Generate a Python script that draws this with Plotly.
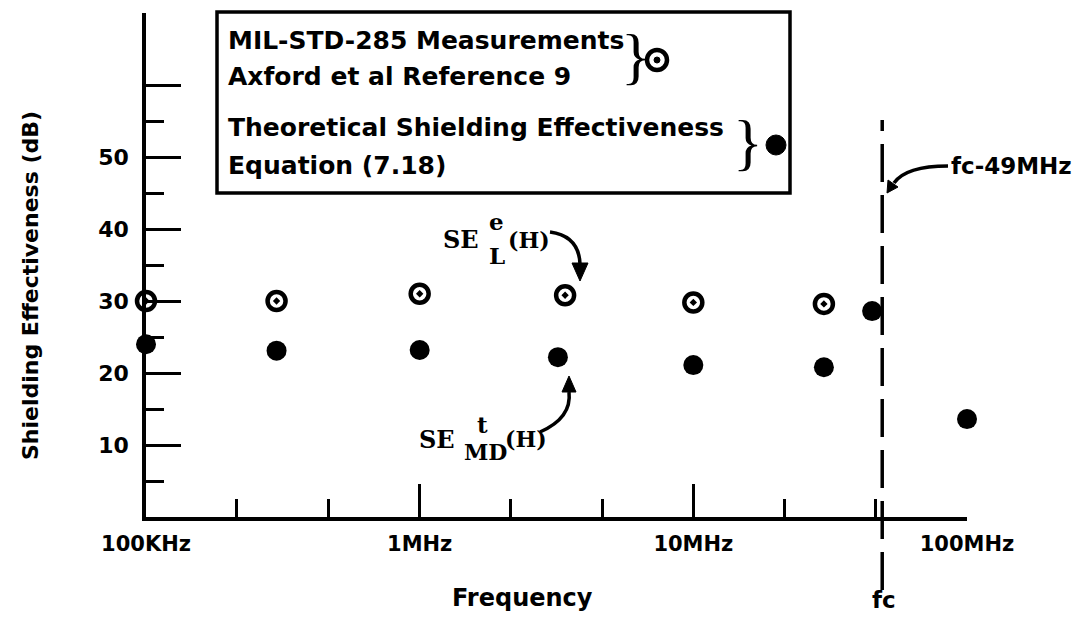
import plotly.graph_objects as go

# ---------------- data ----------------
freq_measured_hz = [1e5, 3e5, 1e6, 3.4e6, 1e7, 3e7]
se_measured_db = [30, 30, 31, 30.8, 29.8, 29.6]

freq_theory_hz = [1e5, 3e5, 1e6, 3.2e6, 1e7, 3e7, 4.5e7, 1e8]
se_theory_db = [24, 23.1, 23.2, 22.2, 21.1, 20.8, 28.6, 13.6]

fc_hz = 49e6

x_major_vals = [1e5, 1e6, 1e7, 1e8]
x_major_text = ["100KHz", "1MHz", "10MHz", "100MHz"]
x_minor_vals = [2.15e5, 4.64e5, 2.15e6, 4.64e6, 2.15e7, 4.64e7]
y_major_vals = [10, 20, 30, 40, 50, 60]
y_major_text = ["10", "20", "30", "40", "50", ""]
y_minor_vals = [5, 15, 25, 35, 45, 55]

# ---------------- layout geometry ----------------
OFF = 8                      # default page body margin
W, H = 1085 - OFF, 618 - OFF
L, T = 146 - OFF, 13 - OFF
R = W - (967 - OFF)
B = H - (517 - OFF)
PW, PH = W - L - R, H - T - B


def px(x):   # x given in page pixels
    return (x - OFF - L) / PW


def py(y):   # y given in page pixels
    return (H - B - (y - OFF)) / PH


FONT = "DejaVu Sans"
TYPE = "DejaVu Serif"
BRACE = "Liberation Serif"

fig = go.Figure()

fig.add_trace(go.Scatter(
    x=freq_measured_hz, y=se_measured_db, mode="markers",
    marker=dict(symbol="circle-open-dot", size=18, color="black",
                line=dict(width=4.5, color="black")),
    cliponaxis=False, showlegend=False, hoverinfo="skip"))

fig.add_trace(go.Scatter(
    x=freq_theory_hz, y=se_theory_db, mode="markers",
    marker=dict(symbol="circle", size=20, color="black"),
    cliponaxis=False, showlegend=False, hoverinfo="skip"))

shapes = []
# fc dashed line
shapes.append(dict(type="line", xref="x", yref="paper",
                   x0=fc_hz, x1=fc_hz, y0=py(590), y1=py(120),
                   line=dict(color="black", width=3.5, dash="38px,13px")))
# legend box
shapes.append(dict(type="rect", xref="paper", yref="paper",
                   x0=px(217), x1=px(790), y0=py(193), y1=py(12),
                   line=dict(color="black", width=3.5)))
# legend symbols
shapes.append(dict(type="circle", xref="paper", yref="paper",
                   x0=px(647), x1=px(667), y0=py(70), y1=py(50),
                   line=dict(color="black", width=4.5)))
shapes.append(dict(type="circle", xref="paper", yref="paper",
                   x0=px(654), x1=px(660), y0=py(63), y1=py(57),
                   fillcolor="black", line=dict(color="black", width=1)))
shapes.append(dict(type="circle", xref="paper", yref="paper",
                   x0=px(766), x1=px(786), y0=py(155), y1=py(135),
                   fillcolor="black", line=dict(color="black", width=1)))


def curve(p0, c, p1, tip, b1, b2):
    path = "M {},{} Q {},{} {},{}".format(px(p0[0]), py(p0[1]), px(c[0]), py(c[1]),
                                          px(p1[0]), py(p1[1]))
    shapes.append(dict(type="path", xref="paper", yref="paper", path=path,
                       line=dict(color="black", width=3.5)))
    tri = "M {},{} L {},{} L {},{} Z".format(px(tip[0]), py(tip[1]), px(b1[0]), py(b1[1]),
                                             px(b2[0]), py(b2[1]))
    shapes.append(dict(type="path", xref="paper", yref="paper", path=tri,
                       fillcolor="black", line=dict(color="black", width=1)))


curve((550, 232), (579, 236), (580, 264), (580, 281), (572, 263), (588, 263))
curve((540, 432), (572, 418), (569, 392), (569, 376), (562, 392), (576, 392))
curve((948, 166), (906, 166), (894, 183), (887, 193), (898, 187), (888, 180))

fig.update_layout(shapes=shapes)

ann = []


def text(x, y, s, size, family=FONT, xa="center", ya="middle", bold=True, angle=0):
    ann.append(dict(xref="paper", yref="paper", x=px(x), y=py(y),
                    text=("<b>%s</b>" % s) if bold else s, showarrow=False,
                    xanchor=xa, yanchor=ya, textangle=angle,
                    font=dict(family=family, size=size, color="black")))


# legend text
text(226, 40, "MIL-STD-285 Measurements", 25, xa="left")
text(226, 76, "Axford et al Reference 9", 25, xa="left")
text(226, 128, "Theoretical Shielding Effectiveness", 25, xa="left")
text(226, 165, "Equation (7.18)", 25, xa="left")
text(636, 56, "}", 62, family=BRACE, bold=False)
text(748, 142, "}", 62, family=BRACE, bold=False)

# SE labels
text(481, 240, "SE", 24, family=TYPE, xa="right")
text(496, 222, "e", 23, family=TYPE)
text(497, 256, "L", 23, family=TYPE)
text(506, 240, "(H)", 22, family=TYPE, xa="left")

text(457, 439, "SE", 24, family=TYPE, xa="right")
text(482, 424, "t", 23, family=TYPE)
text(485, 452, "MD", 22, family=TYPE)
text(503, 439, "(H)", 22, family=TYPE, xa="left")

text(949, 166, "fc-49MHz", 23, xa="left")
text(884, 600, "fc", 23)

# axis titles
text(522, 598, "Frequency", 24)
text(30, 286, "Shielding Effectiveness (dB)", 22, angle=-90)

fig.update_layout(annotations=ann)

fig.update_layout(
    width=W, height=H,
    margin=dict(l=L, r=R, t=T, b=B),
    paper_bgcolor="white", plot_bgcolor="white",
    showlegend=False,
    xaxis=dict(type="log", range=[5, 8], showgrid=False, zeroline=False,
               showline=True, linecolor="black", linewidth=3.5,
               tickmode="array", tickvals=x_major_vals, ticktext=x_major_text,
               ticks="inside", ticklen=33, tickwidth=3, tickcolor="black",
               ticklabelstandoff=5,
               tickfont=dict(family=FONT, size=21, color="black", weight="bold"),
               minor=dict(tickmode="array", tickvals=x_minor_vals, ticks="inside",
                          ticklen=18, tickwidth=3, tickcolor="black", showgrid=False)),
    yaxis=dict(range=[0, 70], showgrid=False, zeroline=False,
               showline=True, linecolor="black", linewidth=3.5,
               tickmode="array", tickvals=y_major_vals, ticktext=y_major_text,
               ticks="inside", ticklen=35, tickwidth=3, tickcolor="black",
               ticklabelstandoff=9,
               tickfont=dict(family=FONT, size=22, color="black", weight="bold"),
               minor=dict(tickmode="array", tickvals=y_minor_vals, ticks="inside",
                          ticklen=18, tickwidth=3, tickcolor="black", showgrid=False)),
)

fig.write_html("out.html")
